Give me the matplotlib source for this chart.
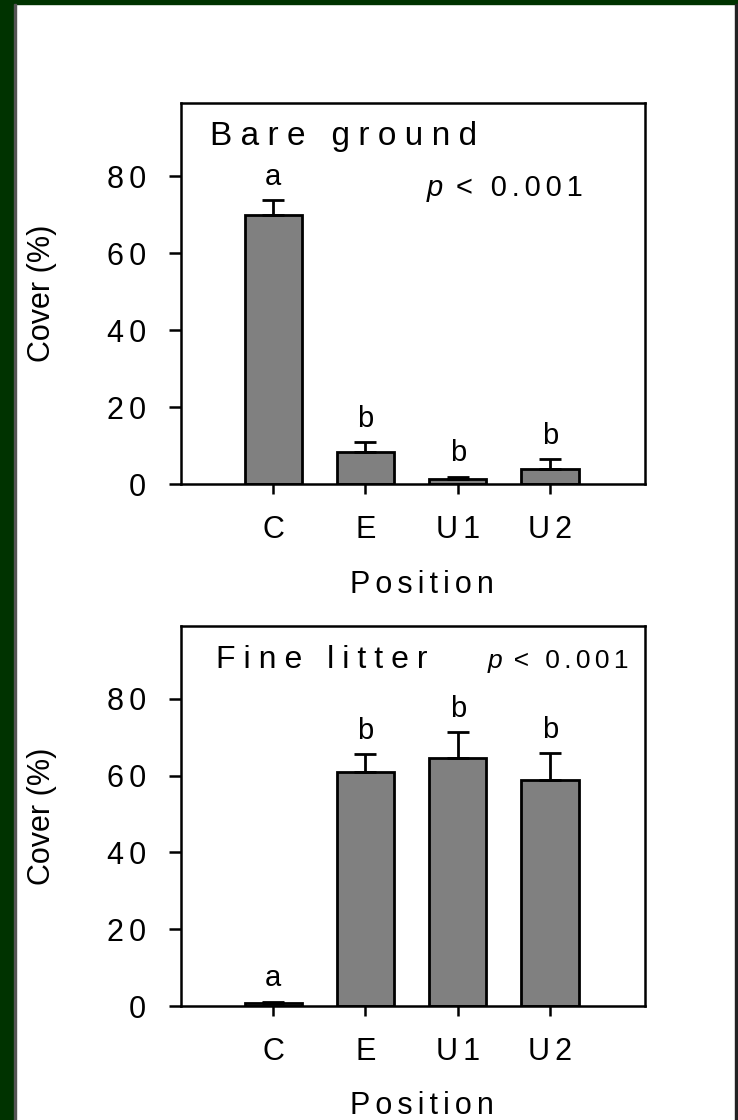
import matplotlib
matplotlib.use('Agg')
import matplotlib.pyplot as plt
from matplotlib.patches import Rectangle

plt.rcParams['font.family'] = ['Liberation Sans', 'DejaVu Sans']

# data
positions = ['C', 'E', 'U1', 'U2']
bare_mean = [69.9, 8.4, 1.2, 3.8]
bare_se = [3.9, 2.5, 0.7, 2.7]
bare_letters = ['a', 'b', 'b', 'b']
litter_mean = [0.7, 60.9, 64.6, 58.9]
litter_se = [0.4, 4.7, 6.8, 7.0]
litter_letters = ['a', 'b', 'b', 'b']
yticks = [0, 20, 40, 60, 80]

W, H = 738, 1120
GREEN = '#003300'


def spaced(s, gap='\u2006'):
    return gap.join(s)


def panel(ax, title, means, errs, letters, title_x, title_size, p_x, p_y, p_size):
    x = list(range(1, len(positions) + 1))
    ax.bar(x, means, width=0.62, color='#808080', edgecolor='black',
           linewidth=2, zorder=2)
    ax.errorbar(x, means, yerr=[[0] * len(errs), errs], fmt='none',
                ecolor='black', elinewidth=2, capsize=8, capthick=2, zorder=3)
    for xi, m, e, lab in zip(x, means, errs, letters):
        ax.text(xi, m + e + 4, lab, ha='center', va='baseline', fontsize=21)
    ax.set_xlim(0, 5.03)
    ax.set_ylim(0, 99)
    ax.set_xticks(x)
    ax.set_xticklabels([spaced(p) for p in positions], fontsize=22)
    ax.set_yticks(yticks)
    ax.set_yticklabels([spaced(str(t)) for t in yticks], fontsize=22)
    ax.tick_params(axis='y', length=8.5, width=1.8, pad=16.5)
    ax.tick_params(axis='x', length=7, width=1.8, pad=15)
    for sp in ax.spines.values():
        sp.set_linewidth(1.8)
    ax.set_ylabel('Cover (%)', fontsize=22)
    ax.yaxis.set_label_coords(-0.267, 0.5)
    ax.set_xlabel(spaced('Position'), fontsize=22)
    ax.xaxis.set_label_coords(0.52, -0.225)
    ax.text(title_x, 0.89, spaced(title, '\u2005'), transform=ax.transAxes,
            fontsize=title_size, va='baseline', ha='left')
    ptxt = ax.text(p_x, p_y, 'p', style='italic', transform=ax.transAxes,
                   fontsize=p_size, va='baseline', ha='left')
    ax.annotate(spaced(' < 0.001'), xy=(1, 0), xycoords=ptxt,
                fontsize=p_size, va='bottom', ha='left')


fig = plt.figure(figsize=(W / 100, H / 100), dpi=100)

# dark green frame of the original slide
fig.add_artist(Rectangle((0, 0), 14 / W, 1, transform=fig.transFigure,
                         color=GREEN, zorder=0))
fig.add_artist(Rectangle((0, 1 - 4 / H), 1, 4 / H, transform=fig.transFigure,
                         color=GREEN, zorder=0))
fig.add_artist(Rectangle((14 / W, 0), 2 / W, 1 - 4 / H, transform=fig.transFigure,
                         color='#555555', zorder=0))
fig.add_artist(Rectangle((1 - 3 / W, 0), 3 / W, 1 - 4 / H, transform=fig.transFigure,
                         color='#222222', zorder=0))

ax1 = fig.add_axes([181 / W, (H - 484) / H, 464 / W, 381 / H])
ax2 = fig.add_axes([181 / W, (H - 1006) / H, 464 / W, 380 / H])

panel(ax1, 'Bare ground', bare_mean, bare_se, bare_letters, 0.0625, 24,
      0.53, 0.756, 21)
panel(ax2, 'Fine litter', litter_mean, litter_se, litter_letters, 0.075, 23,
      0.66, 0.89, 19)

fig.savefig('out.png', dpi=100)
